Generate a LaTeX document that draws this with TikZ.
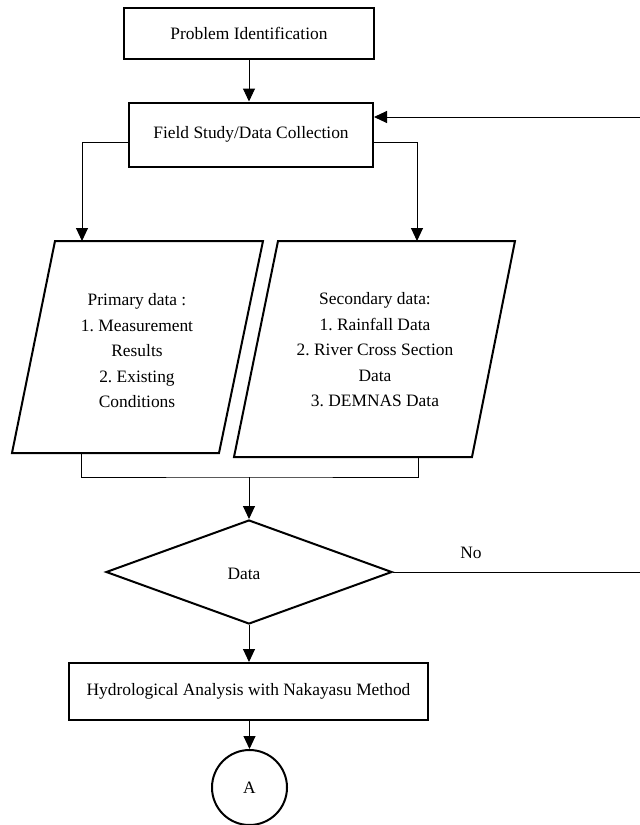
\documentclass[tikz,border=0pt]{standalone}
\usepackage{fontspec}
\setmainfont{Liberation Serif}
\usetikzlibrary{arrows.meta,shapes.geometric}
\frenchspacing
\begin{document}
\begin{tikzpicture}[x=1pt,y=-1pt,
  font=\fontsize{17.4}{25.5}\selectfont,
  box/.style={draw,line width=2pt,inner sep=0pt,align=center},
  conn/.style={line width=1pt},
  arr/.style={conn,-{Triangle[width=12pt,length=13pt]}}]
\clip (0,0) rectangle (640,825);
\fill[white] (0,0) rectangle (640,825);

\node[box,minimum width=250pt,minimum height=51pt] (pi) at (249,33.5) {Problem Identification};
\node[box,minimum width=244pt,minimum height=64pt] (fs) at (251,134.5) {Field Study/Data Collection};

% parallelograms
\draw[line width=2pt] (55,241) -- (263,241) -- (219,453) -- (12,453) -- cycle;
\draw[line width=2pt] (278,241) -- (515,241) -- (472,457) -- (234,457) -- cycle;
\node[align=center,inner sep=0pt] (p1) at (137,351) {Primary data :\\1. Measurement\\Results\\2. Existing\\Conditions};
\node[align=center,inner sep=0pt] (p2) at (375,350) {Secondary data:\\1. Rainfall Data\\2. River Cross Section\\Data\\3. DEMNAS Data};
\coordinate (p1top) at (82,241);
\coordinate (p2top) at (417,241);
\coordinate (p1bot) at (81,453);
\coordinate (p2bot) at (418,457);
\coordinate (merge) at (249,477);

\node[diamond,draw,line width=2pt,inner sep=0pt,minimum width=286pt,minimum height=104pt] (dd) at (249,572) {};
\node[inner sep=0pt] (dtxt) at (244,574) {Data};
\node[inner sep=0pt] (no) at (471,553) {No};
\coordinate (loop) at (660,572);

\node[box,minimum width=359pt,minimum height=57pt] (ha) at (248.5,691.5) {Hydrological Analysis with Nakayasu Method};
\node[circle,draw,line width=2pt,inner sep=0pt,minimum size=75pt] (A) at (249.5,787.5) {A};

\draw[arr] (pi.south) -- (pi.south |- fs.north);
\draw[arr] ([yshift=-8pt]fs.west) -| (p1top);
\draw[arr] ([yshift=-8pt]fs.east) -| (p2top);
\draw[conn] (p1bot) |- (merge) -| (p2bot);
\draw[arr] (merge) -- (dd.north);
\draw[arr] (dd.east) -- (loop) |- ([yshift=17.5pt]fs.east);
\draw[arr] (dd.south) -- (dd.south |- ha.north);
\draw[arr] (A.north |- ha.south) -- (A.north);
\end{tikzpicture}
\end{document}
